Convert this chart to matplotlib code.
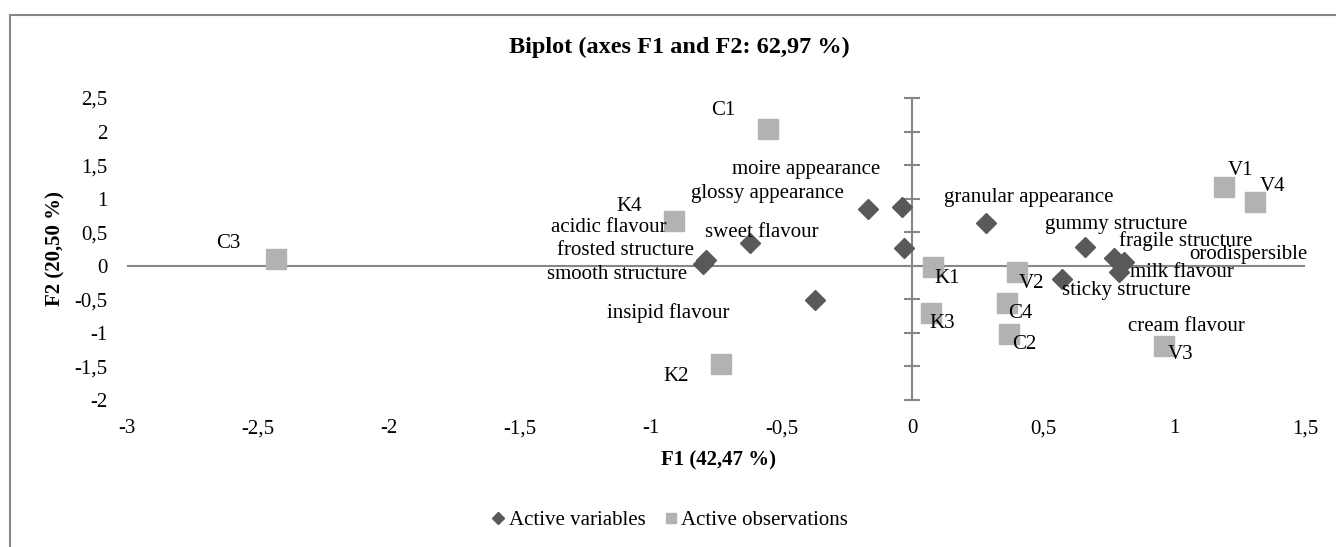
import matplotlib.pyplot as plt
from matplotlib.lines import Line2D
from matplotlib.patches import Rectangle

plt.rcParams['font.family'] = ['Liberation Serif', 'DejaVu Serif']

# Active variables (coordinates on F1 / F2)
var_names = ['moire appearance', 'glossy appearance', 'acidic flavour', 'sweet flavour',
             'frosted structure', 'smooth structure', 'insipid flavour', 'granular appearance',
             'gummy structure', 'fragile structure', 'orodispersible', 'milk flavour',
             'sticky structure', 'cream flavour', '']
var_f1 = [-0.04, -0.17, -0.91, -0.62, -0.79, -0.80, -0.37, 0.28,
          0.66, 0.77, 0.81, 0.79, 0.57, 0.96, -0.03]
var_f2 = [0.88, 0.85, 0.66, 0.34, 0.09, 0.03, -0.51, 0.64,
          0.28, 0.12, 0.05, -0.10, -0.19, -1.19, 0.27]

# Active observations
obs_names = ['C1', 'K4', 'C3', 'K2', 'K1', 'K3', 'V2', 'C4', 'C2', 'V3', 'V1', 'V4']
obs_f1 = [-0.55, -0.91, -2.43, -0.73, 0.08, 0.07, 0.40, 0.36, 0.37, 0.96, 1.19, 1.31]
obs_f2 = [2.04, 0.66, 0.10, -1.46, -0.02, -0.70, -0.10, -0.55, -1.01, -1.19, 1.18, 0.95]

x_ticks = [-3, -2.5, -2, -1.5, -1, -0.5, 0, 0.5, 1, 1.5]
y_ticks = [-2, -1.5, -1, -0.5, 0, 0.5, 1, 1.5, 2, 2.5]

title = 'Biplot (axes F1 and F2: 62,97 %)'
x_title = 'F1 (42,47 %)'
y_title = 'F2 (20,50 %)'
legend_labels = ['Active variables', 'Active observations']

# label offsets from each point, in pixels (dx to left edge of text, dy to text centre)
var_offsets = [(-170, 37), (-177, 15), (-123, -6), (-45, 10), (-149, 9), (-156, -11),
               (-208, -13), (-42, 25), (-40, 22), (5, 17), (65, 8), (11, 0),
               (0, -12), (-36, 19), (0, 0)]
obs_offsets = [(-57, 18), (-58, 15), (-60, 16), (-58, -13), (1, -11), (-1, -11),
               (2, -11), (2, -11), (3, -11), (4, -9), (4, 16), (5, 16)]

W, H = 1336, 547
grey_axis = '#878787'
col_var = '#595959'
col_obs = '#B2B2B2'
fs = 15


def fmt(v):
    # Excel style numbers with a decimal comma
    return '{:g}'.format(v).replace('.', ',')


fig = plt.figure(figsize=(W / 100, H / 100), dpi=100)
ax = fig.add_axes([127 / W, (H - 400) / H, (1305 - 127) / W, 302 / H])
ax.set_xlim(-3, 1.5)
ax.set_ylim(-2, 2.5)

# axes crossing at the origin, ticks only on the vertical one
for side in ['top', 'right', 'bottom']:
    ax.spines[side].set_visible(False)
ax.spines['left'].set_position(('data', 0))
ax.spines['left'].set_color(grey_axis)
ax.spines['left'].set_linewidth(1.5)
ax.axhline(0, color=grey_axis, lw=1.5, zorder=1)

ax.set_yticks(y_ticks)
ax.tick_params(axis='y', direction='inout', length=12, width=1.5, color=grey_axis, labelleft=False)
ax.set_xticks(x_ticks, [fmt(v) for v in x_ticks])
ax.tick_params(axis='x', length=0, pad=14, labelsize=fs)

# y tick labels at the far left of the plot area
sec = ax.secondary_yaxis('left')
sec.set_yticks(y_ticks, [fmt(v) for v in y_ticks])
sec.spines['left'].set_visible(False)
sec.tick_params(length=0, pad=14, labelsize=fs)

ax.plot(var_f1, var_f2, 'D', ms=10, color=col_var, ls='none', zorder=3)
ax.plot(obs_f1, obs_f2, 's', ms=14.5, color=col_obs, ls='none', zorder=4)

for name, x, y, off in zip(var_names, var_f1, var_f2, var_offsets):
    ax.annotate(name, (x, y), xytext=off, textcoords='offset pixels',
                ha='left', va='center', fontsize=fs, zorder=5)
for name, x, y, off in zip(obs_names, obs_f1, obs_f2, obs_offsets):
    ax.annotate(name, (x, y), xytext=off, textcoords='offset pixels',
                ha='left', va='center', fontsize=fs, zorder=5)

fig.text(679 / W, 1 - 47 / H, title, ha='center', va='center', fontsize=17.5, fontweight='bold')
fig.text(718 / W, 1 - 460 / H, x_title, ha='center', va='center', fontsize=fs, fontweight='bold')
fig.text(55 / W, 1 - 249 / H, y_title, ha='center', va='center', fontsize=fs,
         fontweight='bold', rotation=90)

handles = [Line2D([], [], marker='D', ls='none', color=col_var, ms=6),
           Line2D([], [], marker='s', ls='none', color=col_obs, ms=7)]
fig.legend(handles, legend_labels, loc='center', bbox_to_anchor=(670 / W, 1 - 520 / H),
           ncol=2, frameon=False, fontsize=fs, handlelength=0.6, handletextpad=0.2,
           columnspacing=0.9)

# chart area border (bottom and right are cut off in the original)
fig.patches.append(Rectangle((10 / W, -0.1), 1.0, 0.1 + (H - 15) / H, transform=fig.transFigure,
                             fill=False, edgecolor=grey_axis, lw=1.5))

fig.savefig('out.png', dpi=100)
